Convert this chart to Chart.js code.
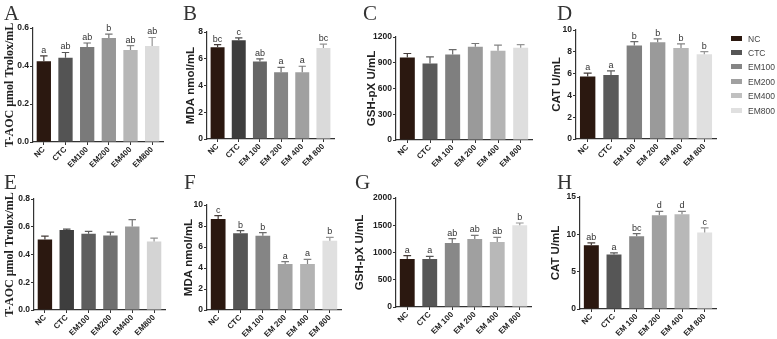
<!DOCTYPE html>
<html><head><meta charset="utf-8">
<script src="https://cdn.jsdelivr.net/npm/chart.js@4/dist/chart.umd.min.js"></script>
<style>
html,body{margin:0;padding:0;background:#fff;}
#wrap{position:relative;width:777px;height:339px;overflow:hidden;background:#fff;}
#wrap canvas{position:absolute;left:0;top:0;}
.pl{position:absolute;font-family:"Liberation Serif","Times New Roman",serif;font-size:21px;color:#333;line-height:1;}
.lg{position:absolute;left:731px;font-family:"Liberation Sans",Arial,sans-serif;font-size:8.5px;color:#444;line-height:10px;white-space:nowrap;}
.lg span{display:inline-block;width:11px;height:5px;margin-right:6px;vertical-align:1px;}
</style></head><body><div id="wrap"></div>
<script>
// ---- categories / tick labels ----
const groups = ['NC','CTC','EM100','EM200','EM400','EM800'];
const groupsSpaced = ['NC','CTC','EM 100','EM 200','EM 400','EM 800'];

// ---- series values (mean, SEM, significance letters) ----
const aMean = [0.425, 0.443, 0.500, 0.547, 0.484, 0.505];
const aErr  = [0.028, 0.028, 0.021, 0.021, 0.023, 0.045];
const aSig  = ['a','ab','ab','b','ab','ab'];

const bMean = [6.86, 7.38, 5.79, 4.99, 4.99, 6.81];
const bErr  = [0.20, 0.18, 0.20, 0.37, 0.45, 0.29];
const bSig  = ['bc','c','ab','a','a','bc'];

const cMean = [961, 891, 996, 1085, 1039, 1074];
const cErr  = [47, 78, 58, 39, 66, 38];
const cSig  = [];

const dMean = [5.73, 5.88, 8.57, 8.87, 8.35, 7.77];
const dErr  = [0.31, 0.37, 0.36, 0.31, 0.37, 0.25];
const dSig  = ['a','a','b','b','b','b'];

const eMean = [0.508, 0.576, 0.549, 0.537, 0.602, 0.494];
const eErr  = [0.025, 0.007, 0.017, 0.024, 0.049, 0.024];
const eSig  = [];

const fMean = [8.67, 7.30, 7.08, 4.38, 4.38, 6.60];
const fErr  = [0.31, 0.26, 0.29, 0.22, 0.45, 0.32];
const fSig  = ['c','b','b','a','a','b'];

const gMean = [881, 881, 1174, 1248, 1193, 1498];
const gErr  = [61, 49, 80, 67, 85, 43];
const gSig  = ['a','a','ab','ab','ab','b'];

const hMean = [8.54, 7.30, 9.75, 12.55, 12.68, 10.24];
const hErr  = [0.32, 0.22, 0.35, 0.53, 0.40, 0.62];
const hSig  = ['ab','a','bc','d','d','c'];

// ---- axis tick settings ----
const yMax  = {A:0.6, B:8, C:1200, D:10, E:0.8, F:10, G:2000, H:15};
const yStep = {A:0.2, B:2, C:300, D:2, E:0.2, F:2, G:500, H:5};

// ---- styles ----
const legendColors = ['#2b1810','#555555','#858585','#a0a0a0','#c0c0c0','#e0e0e0'];
const pal = {
  A:['#2b1810','#545454','#7a7a7a','#979797','#b7b7b7','#dcdcdc'],
  B:['#2b1810','#3e3e3e','#666666','#858585','#a0a0a0','#dadada'],
  C:['#2b1810','#5a5a5a','#7f7f7f','#9a9a9a','#b4b4b4','#dedede'],
  D:['#2b1810','#5a5a5a','#808080','#9a9a9a','#b6b6b6','#e0e0e0'],
  E:['#2b1810','#3e3e3e','#5e5e5e','#707070','#999999','#d4d4d4'],
  F:['#2b1810','#565656','#858585','#a3a3a3','#b3b3b3','#e0e0e0'],
  G:['#2b1810','#565656','#888888','#a0a0a0','#b8b8b8','#e2e2e2'],
  H:['#2b1810','#565656','#878787','#a0a0a0','#b8b8b8','#e2e2e2']
};

function mix(hex, hex2, t){
  const a=[1,3,5].map(i=>parseInt(hex.substr(i,2),16));
  const b=[1,3,5].map(i=>parseInt(hex2.substr(i,2),16));
  return 'rgb('+a.map((v,i)=>Math.round(v*(1-t)+b[i]*t)).join(',')+')';
}

const errPlugin = {
  id:'err',
  afterDatasetsDraw(chart){
    const p = chart.options.plugins.err;
    const meta = chart.getDatasetMeta(0);
    const ys = chart.scales.y;
    const ctx = chart.ctx;
    ctx.save();
    meta.data.forEach((bar,i)=>{
      const v = p.means[i], e = p.errs[i];
      const yT = ys.getPixelForValue(v+e);
      const yB = ys.getPixelForValue(v);
      const half = bar.width*0.26;
      ctx.strokeStyle = mix(p.colors[i], '#5a5a5a', 0.55);
      ctx.lineWidth = 1.2;
      ctx.beginPath();
      ctx.moveTo(bar.x, yB); ctx.lineTo(bar.x, yT);
      ctx.moveTo(bar.x-half, yT); ctx.lineTo(bar.x+half, yT);
      ctx.stroke();
      if (p.sig && p.sig[i]) {
        ctx.fillStyle = '#333';
        ctx.font = '9px "Liberation Sans", Arial, sans-serif';
        ctx.textAlign = 'center';
        ctx.textBaseline = 'bottom';
        ctx.fillText(p.sig[i], bar.x, yT - 1);
      }
    });
    ctx.restore();
  }
};

const serifTitle = 'T-AOC \u03bcmol Trolox/mL';
const panels = [
  {k:'A', labels:groups,       means:aMean, errs:aErr, sig:aSig, title:serifTitle,   serif:true, dec:1, area:[33,163,28,142],  tx:10},
  {k:'B', labels:groupsSpaced, means:bMean, errs:bErr, sig:bSig, title:'MDA nmol/mL', dec:0, area:[207,334,32,139], tx:191},
  {k:'C', labels:groupsSpaced, means:cMean, errs:cErr, sig:cSig, title:'GSH-pX U/mL', dec:0, area:[396,532,37,140], tx:372},
  {k:'D', labels:groupsSpaced, means:dMean, errs:dErr, sig:dSig, title:'CAT U/mL',    dec:0, area:[576,716,30,139], tx:557},
  {k:'E', labels:groups,       means:eMean, errs:eErr, sig:eSig, title:serifTitle,   serif:true, dec:1, area:[34,165,199,310], tx:10},
  {k:'F', labels:groupsSpaced, means:fMean, errs:fErr, sig:fSig, title:'MDA nmol/mL', dec:0, area:[207,341,205,310], tx:189},
  {k:'G', labels:groupsSpaced, means:gMean, errs:gErr, sig:gSig, title:'GSH-pX U/mL', dec:0, area:[396,531,198,307], tx:360},
  {k:'H', labels:groupsSpaced, means:hMean, errs:hErr, sig:hSig, title:'CAT U/mL',    dec:0, area:[580,716,197,309], tx:556}
];

const wrap = document.getElementById('wrap');
const sans = '"Liberation Sans", Arial, sans-serif';
panels.forEach(p=>{
  const cv = document.createElement('canvas');
  cv.width = 777; cv.height = 339;
  wrap.appendChild(cv);
  const [L,R,T,B] = p.area;
  const tf = p.serif ? {family:'"Liberation Serif", "Times New Roman", serif', size:12, weight:'bold'}
                     : {family:sans, size:11.5, weight:'bold'};
  const lh = tf.size*1.2;
  const padLeft = p.tx - lh/2;
  const yW = L - padLeft;
  const xH = 30;
  const colors = pal[p.k];
  new Chart(cv, {
    type:'bar',
    data:{labels:p.labels, datasets:[{data:p.means, backgroundColor:colors, borderWidth:0, barPercentage:0.66, categoryPercentage:1}]},
    options:{
      responsive:false, animation:false, devicePixelRatio:1,
      layout:{padding:{left:padLeft, top:T, right:777-R, bottom:339-B-xH}},
      plugins:{legend:{display:false}, tooltip:{enabled:false},
        err:{means:p.means, errs:p.errs, sig:p.sig, colors:colors}},
      scales:{
        x:{offset:true,
           grid:{display:true, drawOnChartArea:false, drawTicks:true, tickLength:3, offset:false, color:'#333', lineWidth:1},
           border:{display:true, color:'#333', width:1.2},
           ticks:{font:{family:sans, size:8, weight:'bold'}, color:'#222', maxRotation:45, minRotation:45, padding:0, autoSkip:false},
           afterFit(s){ s.height = xH; }},
        y:{min:0, max:yMax[p.k],
           ticks:{stepSize:yStep[p.k], font:{family:sans, size:8.5, weight:'bold'}, color:'#222', padding:1,
                  callback:v=>Number(v).toFixed(p.dec)},
           grid:{display:true, drawOnChartArea:false, drawTicks:true, tickLength:3, color:'#333', lineWidth:1},
           border:{display:true, color:'#333', width:1.2},
           title:{display:true, text:p.title, font:tf, color:'#222', padding:0},
           afterFit(s){ s.width = yW; }}
      }
    },
    plugins:[errPlugin]
  });
});

// panel letters
const letterPos = {A:[4,3], B:[183,3], C:[363,3], D:[557,3], E:[4,172], F:[184,172], G:[355,172], H:[557,172]};
Object.keys(letterPos).forEach(k=>{
  const d = document.createElement('div');
  d.className='pl'; d.textContent=k;
  d.style.left=letterPos[k][0]+'px'; d.style.top=letterPos[k][1]+'px';
  wrap.appendChild(d);
});
// legend
groups.forEach((g,i)=>{
  const d = document.createElement('div');
  d.className='lg';
  d.style.top = (33.5 + i*14.4)+'px';
  const s = document.createElement('span'); s.style.background = legendColors[i];
  d.appendChild(s); d.appendChild(document.createTextNode(g));
  wrap.appendChild(d);
});
</script></body></html>
